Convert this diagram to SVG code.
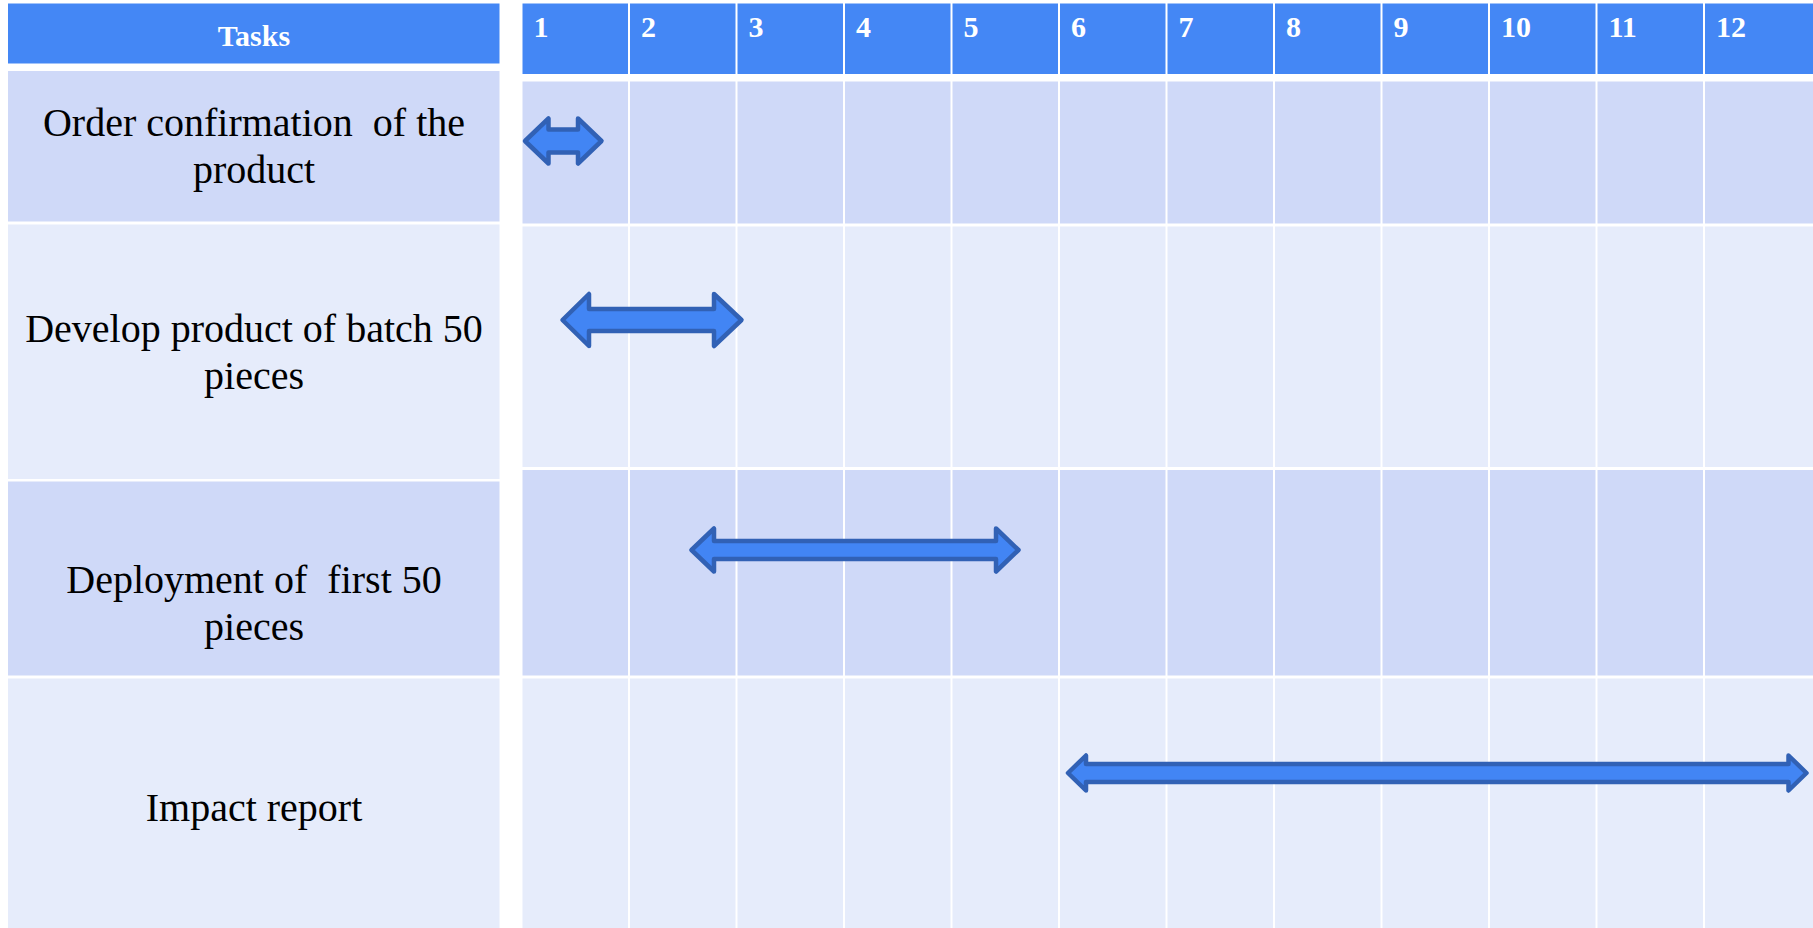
<svg xmlns="http://www.w3.org/2000/svg" width="1813" height="928" viewBox="0 0 1813 928">
<style>
.hdr{fill:#4487F5}
.dark{fill:#CFD9F8}
.light{fill:#E6ECFB}
.ht{font-family:"Liberation Serif","Times New Roman",serif;font-weight:bold;font-size:30px;fill:#FFFFFF}
.tt{font-family:"Liberation Serif","Times New Roman",serif;font-size:40px;fill:#000000;text-anchor:middle;white-space:pre}
.bar{fill:#4285F4;stroke:#3161B5;stroke-width:4.5;stroke-linejoin:round}
</style>
<rect x="0" y="0" width="1813" height="928" fill="#FFFFFF"/>
<g id="tasks-header">
<rect class="hdr" x="8" y="3.5" width="491.5" height="60"/>
<text class="ht" x="254" y="46" text-anchor="middle">Tasks</text>
</g>
<g id="task-1">
<rect class="dark" x="8" y="71" width="491.5" height="150.5"/>
<text class="tt" x="254" y="136">Order confirmation  of the</text>
<text class="tt" x="254" y="183">product</text>
</g>
<g id="task-2">
<rect class="light" x="8" y="224.5" width="491.5" height="254.5"/>
<text class="tt" x="254" y="342">Develop product of batch 50</text>
<text class="tt" x="254" y="389">pieces</text>
</g>
<g id="task-3">
<rect class="dark" x="8" y="481.5" width="491.5" height="194"/>
<text class="tt" x="254" y="593">Deployment of  first 50</text>
<text class="tt" x="254" y="640">pieces</text>
</g>
<g id="task-4">
<rect class="light" x="8" y="678.5" width="491.5" height="249.5"/>
<text class="tt" x="254" y="821">Impact report</text>
</g>
<g id="timeline-header">
<rect class="hdr" x="522.5" y="3.5" width="105.5" height="70.5"/>
<rect class="hdr" x="630" y="3.5" width="105.5" height="70.5"/>
<rect class="hdr" x="737.5" y="3.5" width="105.5" height="70.5"/>
<rect class="hdr" x="845" y="3.5" width="105.5" height="70.5"/>
<rect class="hdr" x="952.5" y="3.5" width="105.5" height="70.5"/>
<rect class="hdr" x="1060" y="3.5" width="105.5" height="70.5"/>
<rect class="hdr" x="1167.5" y="3.5" width="105.5" height="70.5"/>
<rect class="hdr" x="1275" y="3.5" width="105.5" height="70.5"/>
<rect class="hdr" x="1382.5" y="3.5" width="105.5" height="70.5"/>
<rect class="hdr" x="1490" y="3.5" width="105.5" height="70.5"/>
<rect class="hdr" x="1597.5" y="3.5" width="105.5" height="70.5"/>
<rect class="hdr" x="1705" y="3.5" width="108" height="70.5"/>
<text class="ht" x="533.5" y="37">1</text>
<text class="ht" x="641" y="37">2</text>
<text class="ht" x="748.5" y="37">3</text>
<text class="ht" x="856" y="37">4</text>
<text class="ht" x="963.5" y="37">5</text>
<text class="ht" x="1071" y="37">6</text>
<text class="ht" x="1178.5" y="37">7</text>
<text class="ht" x="1286" y="37">8</text>
<text class="ht" x="1393.5" y="37">9</text>
<text class="ht" x="1501" y="37">10</text>
<text class="ht" x="1608.5" y="37">11</text>
<text class="ht" x="1716" y="37">12</text>
</g>
<g id="timeline-grid">
<g id="grid-row-1">
<rect class="dark" x="522.5" y="81.5" width="105.5" height="142"/>
<rect class="dark" x="630" y="81.5" width="105.5" height="142"/>
<rect class="dark" x="737.5" y="81.5" width="105.5" height="142"/>
<rect class="dark" x="845" y="81.5" width="105.5" height="142"/>
<rect class="dark" x="952.5" y="81.5" width="105.5" height="142"/>
<rect class="dark" x="1060" y="81.5" width="105.5" height="142"/>
<rect class="dark" x="1167.5" y="81.5" width="105.5" height="142"/>
<rect class="dark" x="1275" y="81.5" width="105.5" height="142"/>
<rect class="dark" x="1382.5" y="81.5" width="105.5" height="142"/>
<rect class="dark" x="1490" y="81.5" width="105.5" height="142"/>
<rect class="dark" x="1597.5" y="81.5" width="105.5" height="142"/>
<rect class="dark" x="1705" y="81.5" width="108" height="142"/>
</g>
<g id="grid-row-2">
<rect class="light" x="522.5" y="226.5" width="105.5" height="240.5"/>
<rect class="light" x="630" y="226.5" width="105.5" height="240.5"/>
<rect class="light" x="737.5" y="226.5" width="105.5" height="240.5"/>
<rect class="light" x="845" y="226.5" width="105.5" height="240.5"/>
<rect class="light" x="952.5" y="226.5" width="105.5" height="240.5"/>
<rect class="light" x="1060" y="226.5" width="105.5" height="240.5"/>
<rect class="light" x="1167.5" y="226.5" width="105.5" height="240.5"/>
<rect class="light" x="1275" y="226.5" width="105.5" height="240.5"/>
<rect class="light" x="1382.5" y="226.5" width="105.5" height="240.5"/>
<rect class="light" x="1490" y="226.5" width="105.5" height="240.5"/>
<rect class="light" x="1597.5" y="226.5" width="105.5" height="240.5"/>
<rect class="light" x="1705" y="226.5" width="108" height="240.5"/>
</g>
<g id="grid-row-3">
<rect class="dark" x="522.5" y="470" width="105.5" height="205.5"/>
<rect class="dark" x="630" y="470" width="105.5" height="205.5"/>
<rect class="dark" x="737.5" y="470" width="105.5" height="205.5"/>
<rect class="dark" x="845" y="470" width="105.5" height="205.5"/>
<rect class="dark" x="952.5" y="470" width="105.5" height="205.5"/>
<rect class="dark" x="1060" y="470" width="105.5" height="205.5"/>
<rect class="dark" x="1167.5" y="470" width="105.5" height="205.5"/>
<rect class="dark" x="1275" y="470" width="105.5" height="205.5"/>
<rect class="dark" x="1382.5" y="470" width="105.5" height="205.5"/>
<rect class="dark" x="1490" y="470" width="105.5" height="205.5"/>
<rect class="dark" x="1597.5" y="470" width="105.5" height="205.5"/>
<rect class="dark" x="1705" y="470" width="108" height="205.5"/>
</g>
<g id="grid-row-4">
<rect class="light" x="522.5" y="678.5" width="105.5" height="249.5"/>
<rect class="light" x="630" y="678.5" width="105.5" height="249.5"/>
<rect class="light" x="737.5" y="678.5" width="105.5" height="249.5"/>
<rect class="light" x="845" y="678.5" width="105.5" height="249.5"/>
<rect class="light" x="952.5" y="678.5" width="105.5" height="249.5"/>
<rect class="light" x="1060" y="678.5" width="105.5" height="249.5"/>
<rect class="light" x="1167.5" y="678.5" width="105.5" height="249.5"/>
<rect class="light" x="1275" y="678.5" width="105.5" height="249.5"/>
<rect class="light" x="1382.5" y="678.5" width="105.5" height="249.5"/>
<rect class="light" x="1490" y="678.5" width="105.5" height="249.5"/>
<rect class="light" x="1597.5" y="678.5" width="105.5" height="249.5"/>
<rect class="light" x="1705" y="678.5" width="108" height="249.5"/>
</g>
</g>
<g id="connectors">
<path id="bar-1" class="bar" d="M525,141 L548.5,118.5 L548.5,129.5 L578,129.5 L578,118.5 L601.5,141 L578,163.5 L578,152.5 L548.5,152.5 L548.5,163.5 Z"/>
<path id="bar-2" class="bar" d="M562.5,320 L589,294 L589,309 L714,309 L714,294 L741.5,320 L714,346 L714,331 L589,331 L589,346 Z"/>
<path id="bar-3" class="bar" d="M691.5,550 L714,528.5 L714,541 L996,541 L996,528.5 L1018.5,550 L996,571.5 L996,559 L714,559 L714,571.5 Z"/>
<path id="bar-4" class="bar" d="M1068,773 L1086,755.5 L1086,764 L1788.5,764 L1788.5,755.5 L1806.5,773 L1788.5,790.5 L1788.5,782 L1086,782 L1086,790.5 Z"/>
</g>
</svg>
